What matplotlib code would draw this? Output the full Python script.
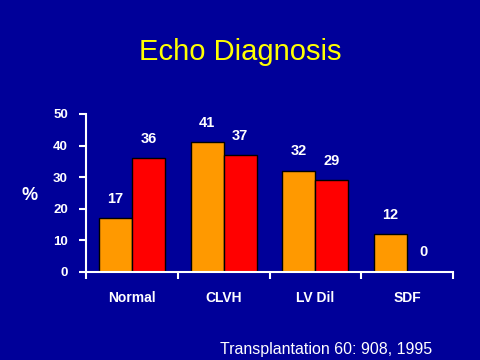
import numpy as np
import matplotlib
matplotlib.use('Agg')
import matplotlib.pyplot as plt

plt.rcParams['font.family'] = ['Liberation Sans', 'DejaVu Sans']

categories = ['Normal', 'CLVH', 'LV Dil', 'SDF']
series_a = [17, 41, 32, 12]   # orange
series_b = [36, 37, 29, 0]    # red
yticks = [0, 10, 20, 30, 40, 50]

bg = '#000099'
fig = plt.figure(figsize=(4.8, 3.6), dpi=100, facecolor=bg)
ax = fig.add_axes([86 / 480, 88 / 360, 367 / 480, 158 / 360])
ax.set_facecolor(bg)

x = np.arange(len(categories))
w = 0.36
ax.bar(x - w / 2, series_a, width=w, color='#FF9900', edgecolor='black', linewidth=1)
ax.bar(x + w / 2, series_b, width=w, color='#FF0000', edgecolor='black', linewidth=1)

# value labels
for xi, v in zip(x - w / 2, series_a):
    ax.annotate(str(v), (xi, v), xytext=(0, 9), textcoords='offset points',
                ha='center', va='bottom', color='white', fontsize=10.5, fontweight='bold')
for xi, v in zip(x + w / 2, series_b):
    ax.annotate(str(v), (xi, v), xytext=(0, 9), textcoords='offset points',
                ha='center', va='bottom', color='white', fontsize=10.5, fontweight='bold')

ax.set_xlim(-0.5, len(categories) - 0.5)
ax.set_ylim(0, 50)
ax.set_yticks(yticks)
ax.set_xticks(x)
ax.set_xticklabels(categories)
ax.set_xticks(np.arange(-0.5, len(categories)), minor=True)

for s in ['top', 'right']:
    ax.spines[s].set_visible(False)
for s in ['left', 'bottom']:
    ax.spines[s].set_color('white')
    ax.spines[s].set_linewidth(1.5)

ax.tick_params(axis='x', which='major', length=0, pad=14, colors='white', labelsize=10)
ax.tick_params(axis='x', which='minor', length=5, width=1.5, direction='out', color='white')
ax.tick_params(axis='y', length=5, width=1.5, direction='out', colors='white', labelsize=9.5, pad=8)
for lab in ax.get_xticklabels() + ax.get_yticklabels():
    lab.set_fontweight('bold')

fig.text(30 / 480, 1 - 196 / 360, '%', color='white', fontsize=13, fontweight='bold',
         ha='center', va='center')
fig.text(0.5, 1 - 60 / 360, 'Echo Diagnosis', color='#FFFF00', fontsize=21,
         ha='center', va='baseline')
fig.text(432 / 480, 6 / 360, 'Transplantation 60: 908, 1995', color='white',
         fontsize=11.5, ha='right', va='baseline')

fig.savefig('out.png', dpi=100, facecolor=bg)
